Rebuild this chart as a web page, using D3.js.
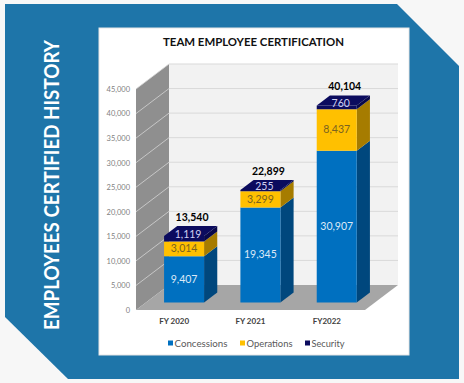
<!DOCTYPE html>
<html><head><meta charset="utf-8">
<script src="https://cdn.jsdelivr.net/npm/d3@7"></script>
<style>html,body{margin:0;padding:0;background:#f7f7f7;}svg{display:block;}</style>
</head><body>
<svg id="c" width="464" height="383"></svg>
<script>
const categories = ["FY 2020", "FY 2021", "FY2022"];
const concessions = [9407, 19345, 30907];
const operations = [3014, 3299, 8437];
const security = [1119, 255, 760];
const totals = [13540, 22899, 40104];
const seriesNames = ["Concessions", "Operations", "Security"];
const yTicks = [0, 5000, 10000, 15000, 20000, 25000, 30000, 35000, 40000, 45000];

const svg = d3.select("#c");
const font = "Lato, 'DejaVu Sans', sans-serif";

// background shape
svg.append("rect").attr("width", 464).attr("height", 383).attr("fill", "#f7f7f7");
svg.append("path").attr("d", "M5,4 L397,4 L459,66 L459,379 L68,379 L5,317 Z").attr("fill", "#1e75a9");
svg.append("text").attr("transform", "translate(59,185) rotate(-90)")
  .attr("text-anchor", "middle").attr("font-family", font).attr("font-weight", "bold")
  .attr("font-size", 21).attr("fill", "#fff").attr("textLength", 290).attr("lengthAdjust", "spacingAndGlyphs")
  .text("EMPLOYEES CERTIFIED HISTORY");

// white panel
svg.append("rect").attr("x", 99).attr("y", 28).attr("width", 310).attr("height", 327).attr("fill", "#fff")
  .attr("stroke", "#e6e6e6").attr("stroke-width", 1);

svg.append("text").attr("x", 253.5).attr("y", 46).attr("text-anchor", "middle")
  .attr("font-family", font).attr("font-weight", "bold").attr("font-size", 11).attr("fill", "#111")
  .attr("textLength", 181).attr("lengthAdjust", "spacingAndGlyphs")
  .text("TEAM EMPLOYEE CERTIFICATION");

// 3D geometry
const x0 = 136, x1 = 365;
const DX = 33, DY = -25;
const y = d3.scaleLinear().domain([0, 45000]).range([310, 89]);
const xb = d3.scaleBand().domain(categories).range([x0, x1]).paddingInner(0.476).paddingOuter(0.238);
const P = (x, v, d) => [x + d * DX, y(v) + d * DY];
const poly = pts => "M" + pts.map(p => p.join(",")).join("L") + "Z";
const ymax = 45000;

// back wall
svg.append("path").attr("d", poly([P(x0, 0, 1), P(x1, 0, 1), P(x1, ymax, 1), P(x0, ymax, 1)])).attr("fill", "#f2f2f2");
// left wall
svg.append("path").attr("d", poly([P(x0, 0, 0), P(x0, 0, 1), P(x0, ymax, 1), P(x0, ymax, 0)])).attr("fill", "#8f8f8f");
// floor
svg.append("path").attr("d", poly([P(x0, 0, 0), P(x1, 0, 0), P(x1, 0, 1), P(x0, 0, 1)])).attr("fill", "#a6a6a6");

// gridlines
yTicks.filter(v => v > 0).forEach(v => {
  const a = P(x0, v, 1), b = P(x1, v, 1), c = P(x0, v, 0);
  svg.append("line").attr("x1", a[0]).attr("y1", a[1]).attr("x2", b[0]).attr("y2", b[1])
    .attr("stroke", "#d9d9d9").attr("stroke-width", 1);
  svg.append("line").attr("x1", c[0]).attr("y1", c[1]).attr("x2", a[0]).attr("y2", a[1])
    .attr("stroke", "#d4d4d4").attr("stroke-width", 0.8);
});

// y axis
const ax = svg.append("g").attr("transform", `translate(${x0 - 4},0)`)
  .call(d3.axisLeft(y).tickValues(yTicks).tickFormat(d3.format(",")).tickSize(0).tickPadding(2));
ax.select(".domain").remove();
ax.selectAll("text").attr("font-family", font).attr("font-size", 7.5).attr("fill", "#7f7f7f");

// x labels
categories.forEach(c => {
  svg.append("text").attr("x", xb(c) + xb.bandwidth() / 2).attr("y", 324).attr("text-anchor", "middle")
    .attr("font-family", font).attr("font-weight", "bold").attr("font-size", 8).attr("fill", "#404040").text(c);
});

// bars
const series = [concessions, operations, security];
const colors = [
  {front: "#0070c0", side: "#00477d", top: "#0060a8", label: "#dce9f7"},
  {front: "#ffc000", side: "#a67c00", top: "#e0a800", label: "#7a6320"},
  {front: "#0b0b5e", side: "#08084a", top: "#0b0b5e", label: "#d0d0f2"}
];
const d0 = 0.3, d1 = 0.7;
categories.forEach((c, i) => {
  const bx = xb(c), bw = xb.bandwidth();
  let base = 0;
  series.forEach((s, k) => {
    const v0 = base, v1 = base + s[i];
    const col = colors[k];
    svg.append("path").attr("d", poly([P(bx + bw, v0, d0), P(bx + bw, v0, d1), P(bx + bw, v1, d1), P(bx + bw, v1, d0)])).attr("fill", col.side);
    svg.append("path").attr("d", poly([P(bx, v0, d0), P(bx + bw, v0, d0), P(bx + bw, v1, d0), P(bx, v1, d0)])).attr("fill", col.front);
    if (k === series.length - 1) {
      svg.append("path").attr("d", poly([P(bx, v1, d0), P(bx + bw, v1, d0), P(bx + bw, v1, d1), P(bx, v1, d1)])).attr("fill", col.top);
    }
    base = v1;
  });
  base = 0;
  series.forEach((s, k) => {
    const v0 = base, v1 = base + s[i];
    const mid = P(bx + bw / 2, (v0 + v1) / 2, d0);
    let lx = mid[0], ly = mid[1];
    if (k === series.length - 1) { lx += 4; ly -= 4; }
    svg.append("text").attr("x", lx).attr("y", ly + 3.5).attr("text-anchor", "middle")
      .attr("font-family", font).attr("font-size", 10.5).attr("fill", colors[k].label)
      .text(d3.format(",")(s[i]));
    base = v1;
  });
  const tp = P(bx + bw / 2, totals[i], d0);
  svg.append("text").attr("x", tp[0] + 8).attr("y", tp[1] - 15.5).attr("text-anchor", "middle")
    .attr("font-family", font).attr("font-weight", "bold").attr("font-size", 10.5).attr("fill", "#000")
    .text(d3.format(",")(totals[i]));
});

// legend
const legX = [168, 240, 305];
const legW = [53, 46, 33];
seriesNames.forEach((n, k) => {
  svg.append("rect").attr("x", legX[k]).attr("y", 340.5).attr("width", 5).attr("height", 5).attr("fill", colors[k].front);
  svg.append("text").attr("x", legX[k] + 6.5).attr("y", 346.5).attr("font-family", font)
    .attr("font-size", 9).attr("fill", "#595959").attr("textLength", legW[k]).attr("lengthAdjust", "spacingAndGlyphs").text(n);
});
</script>
</body></html>
